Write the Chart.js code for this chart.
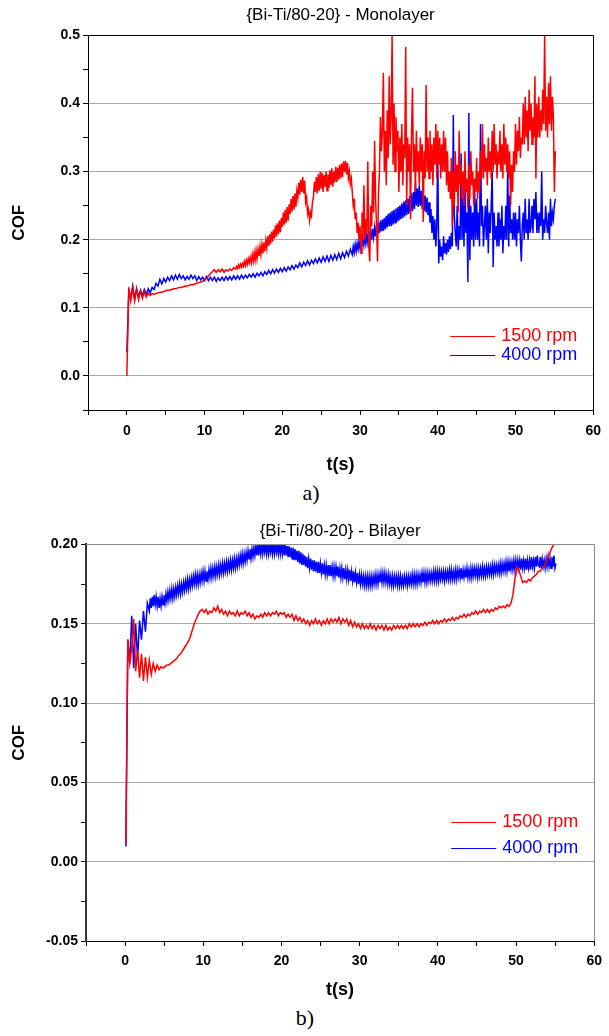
<!DOCTYPE html>
<html>
<head>
<meta charset="utf-8">
<script src="https://cdn.jsdelivr.net/npm/chart.js@4.4.1/dist/chart.umd.min.js"></script>
<style>
  html, body { margin: 0; padding: 0; background: #fff; }
  body { width: 609px; height: 1036px; position: relative; overflow: hidden; }
  .panel { position: absolute; left: 0; width: 609px; }
  #panelA { top: 0; height: 480px; }
  #panelB { top: 520px; height: 481px; }
  .caption { position: absolute; width: 40px; text-align: center; line-height: 26px;
             font-family: "Liberation Serif", "DejaVu Serif", serif; font-size: 22px; color: #000; }
</style>
</head>
<body>
<div class="panel" id="panelA"><canvas id="chartA" width="609" height="480"></canvas></div>
<div class="caption" style="left:291px; top:480px">a)</div>
<div class="panel" id="panelB"><canvas id="chartB" width="609" height="481"></canvas></div>
<div class="caption" style="left:285px; top:1005px">b)</div>
<script>
// (a) monolayer
// 1500 rpm: every 0.25 s to 13.75 s, then every 0.125 s from 14 s
// 4000 rpm: every 0.25 s to 28.75 s, then every 0.125 s from 29 s
const mono1500Early = [
  0.00,0.13,0.11,0.13, 0.11,0.128,0.112,0.125, 0.114,0.124,0.116,0.122, 0.118,0.121,0.12,0.121,
  0.122,0.123,0.123,0.124, 0.125,0.126,0.126,0.127, 0.128,0.128,0.129,0.13, 0.13,0.131,0.132,0.132,
  0.133,0.134,0.134,0.135, 0.136,0.137,0.138,0.139, 0.141,0.143,0.147,0.15, 0.153,0.156,0.152,0.156,
  0.153,0.157,0.152,0.156, 0.154,0.157,0.155,0.159
];
const mono1500Late = [
  0.157,0.161,0.158,0.163,0.159,0.164,0.16,0.165,  0.161,0.168,0.162,0.17,0.164,0.172,0.166,0.174,
  0.166,0.178,0.168,0.181,0.17,0.184,0.172,0.186,  0.176,0.19,0.178,0.193,0.18,0.196,0.183,0.199,
  0.188,0.205,0.191,0.208,0.194,0.212,0.197,0.215, 0.202,0.221,0.205,0.224,0.208,0.228,0.211,0.232,
  0.219,0.24,0.222,0.244,0.225,0.248,0.228,0.252,  0.238,0.26,0.241,0.264,0.244,0.268,0.248,0.272,
  0.262,0.284,0.266,0.288,0.27,0.292,0.268,0.287,  0.255,0.262,0.238,0.245,0.228,0.24,0.235,0.255,
  0.262,0.285,0.27,0.292,0.268,0.296,0.272,0.3,    0.275,0.298,0.27,0.295,0.278,0.3,0.272,0.296,
  0.276,0.302,0.28,0.305,0.278,0.3,0.284,0.307,    0.285,0.306,0.288,0.31,0.29,0.312,0.292,0.315,
  0.3,0.316,0.296,0.313,0.29,0.3,0.282,0.29,
  0.27,0.25,0.26,0.23,0.24,0.21,0.225,0.2,   0.22,0.18,0.24,0.2,0.28,0.2,0.23,0.21,
  0.315,0.19,0.168,0.25,0.22,0.3,0.24,0.345, 0.26,0.22,0.168,0.27,0.3,0.38,0.33,0.36,
  0.445,0.3,0.36,0.28,0.39,0.32,0.44,0.34,   0.38,0.5,0.31,0.4,0.3,0.38,0.33,0.36,
  0.27,0.35,0.3,0.37,0.28,0.34,0.32,0.483,   0.25,0.35,0.3,0.34,0.23,0.36,0.423,0.3,
  0.34,0.27,0.36,0.3,0.33,0.28,0.35,0.3,     0.34,0.226,0.33,0.29,0.427,0.3,0.35,0.29,
  0.36,0.3,0.34,0.28,0.35,0.31,0.37,0.29,    0.36,0.31,0.35,0.29,0.34,0.3,0.36,0.3,
  0.35,0.28,0.33,0.27,0.3,0.26,0.32,0.22,    0.3,0.25,0.33,0.27,0.31,0.24,0.36,0.28,
  0.31,0.26,0.3,0.25,0.33,0.27,0.29,0.245,   0.31,0.26,0.33,0.28,0.3,0.25,0.29,0.27,
  0.32,0.26,0.3,0.27,0.33,0.29,0.37,0.29,    0.34,0.3,0.32,0.28,0.35,0.3,0.33,0.29,
  0.36,0.3,0.37,0.31,0.34,0.29,0.33,0.31,    0.36,0.3,0.34,0.29,0.37,0.31,0.35,0.3,
  0.34,0.29,0.33,0.25,0.31,0.27,0.33,0.3,    0.37,0.31,0.36,0.33,0.38,0.32,0.35,0.34,
  0.4,0.34,0.41,0.35,0.39,0.33,0.42,0.36,    0.4,0.34,0.38,0.35,0.44,0.29,0.4,0.35,
  0.41,0.35,0.39,0.36,0.42,0.37,0.5,0.36,    0.41,0.35,0.43,0.37,0.44,0.36,0.41,0.38,
  0.27,0.33
];
const mono4000Early = [
  0.035,0.125,0.115,0.132, 0.113,0.128,0.116,0.126, 0.118,0.127,0.12,0.128, 0.122,0.13,0.127,0.136,
  0.132,0.142,0.135,0.143, 0.138,0.145,0.14,0.147, 0.141,0.148,0.142,0.149, 0.143,0.147,0.141,0.146,
  0.142,0.148,0.143,0.147, 0.14,0.146,0.141,0.145, 0.14,0.146,0.14,0.145, 0.14,0.145,0.139,0.144,
  0.14,0.145,0.14,0.146, 0.141,0.146,0.141,0.147, 0.142,0.147,0.142,0.148, 0.143,0.148,0.144,0.149,
  0.145,0.15,0.145,0.151, 0.147,0.152,0.147,0.153, 0.149,0.155,0.15,0.156, 0.151,0.157,0.152,0.158,
  0.153,0.159,0.154,0.16, 0.156,0.162,0.157,0.163, 0.159,0.166,0.16,0.167, 0.162,0.169,0.163,0.17,
  0.165,0.172,0.166,0.173, 0.167,0.175,0.168,0.176, 0.168,0.177,0.17,0.178, 0.171,0.18,0.172,0.181,
  0.174,0.183,0.176,0.186
];
const mono4000Late = [
  0.178,0.19,0.181,0.193,0.183,0.195,0.186,0.198,  0.187,0.2,0.19,0.203,0.192,0.205,0.194,0.208,
  0.196,0.21,0.198,0.213,0.2,0.216,0.203,0.218,    0.205,0.222,0.207,0.225,0.21,0.228,0.212,0.23,
  0.213,0.232,0.215,0.235,0.218,0.238,0.22,0.24,   0.22,0.242,0.222,0.244,0.225,0.246,0.226,0.248,
  0.228,0.25,0.23,0.253,0.232,0.256,0.234,0.258,   0.236,0.26,0.238,0.264,0.24,0.268,0.242,0.27,
  0.245,0.285,0.25,0.275,0.248,0.28,0.25,0.272,    0.245,0.27,0.242,0.265,0.24,0.262,0.236,0.255,
  0.225,0.245,0.21,0.235,0.2,0.23,0.19,0.22,       0.33,0.165,0.2,0.175,0.19,0.17,0.205,0.18,
  0.195,0.178,0.2,0.182,0.205,0.186,0.21,0.19,     0.383,0.236,0.21,0.19,0.25,0.185,0.22,0.2,
  0.327,0.2,0.26,0.19,0.28,0.21,0.24,0.138,        0.386,0.17,0.25,0.2,0.24,0.19,0.27,0.2,
  0.26,0.2,0.24,0.19,0.37,0.22,0.25,0.19,          0.22,0.25,0.2,0.26,0.18,0.24,0.21,0.25,
  0.3,0.16,0.24,0.2,0.22,0.19,0.24,0.19,           0.23,0.2,0.25,0.18,0.22,0.2,0.25,0.2,
  0.308,0.19,0.265,0.21,0.23,0.2,0.24,0.2,         0.24,0.19,0.23,0.21,0.25,0.2,0.168,0.22,
  0.24,0.2,0.26,0.21,0.23,0.2,0.26,0.21,           0.22,0.25,0.21,0.26,0.23,0.27,0.21,0.24,
  0.21,0.24,0.22,0.3,0.2,0.23,0.21,0.25,           0.225,0.21,0.24,0.2,0.26,0.22,0.24,0.23,
  0.25,0.26
];

// (b) bilayer
// 1500 rpm: every 0.25 s from 0.1 s
// 4000 rpm: every 0.25 s from 0.1 s to 2.85 s, then every 0.125 s from 3.1 s
const bi1500 = [
  0.011,0.14,0.125,0.135, 0.153,0.12,0.133,0.116, 0.131,0.114,0.129,0.116, 0.127,0.118,0.125,0.12,
  0.124,0.121,0.123,0.122, 0.123,0.124,0.124,0.125, 0.126,0.127,0.128,0.13, 0.131,0.133,0.135,0.137,
  0.139,0.142,0.146,0.15, 0.153,0.156,0.158,0.159, 0.157,0.159,0.156,0.158, 0.157,0.16,0.158,0.161,
  0.157,0.159,0.156,0.158, 0.155,0.158,0.156,0.157, 0.155,0.158,0.155,0.157, 0.156,0.158,0.155,0.157,
  0.154,0.156,0.153,0.155, 0.154,0.156,0.154,0.157, 0.155,0.157,0.155,0.157, 0.156,0.158,0.155,0.157,
  0.156,0.157,0.154,0.156, 0.154,0.156,0.152,0.155, 0.152,0.154,0.151,0.153, 0.15,0.152,0.149,0.152,
  0.15,0.153,0.15,0.152, 0.149,0.152,0.15,0.153, 0.15,0.153,0.151,0.153, 0.151,0.154,0.15,0.153,
  0.151,0.153,0.149,0.152, 0.148,0.151,0.148,0.15, 0.147,0.15,0.147,0.149, 0.147,0.15,0.147,0.149,
  0.146,0.149,0.147,0.149, 0.146,0.149,0.146,0.148, 0.146,0.149,0.147,0.149, 0.147,0.149,0.147,0.149,
  0.147,0.15,0.148,0.15, 0.148,0.15,0.148,0.15, 0.149,0.151,0.149,0.151, 0.15,0.152,0.15,0.152,
  0.15,0.152,0.151,0.153, 0.151,0.153,0.152,0.154, 0.152,0.154,0.153,0.155, 0.154,0.156,0.154,0.156,
  0.155,0.157,0.156,0.158, 0.156,0.158,0.157,0.159, 0.157,0.159,0.157,0.159, 0.158,0.16,0.159,0.161,
  0.16,0.161,0.16,0.162, 0.161,0.163,0.168,0.178, 0.186,0.184,0.18,0.176, 0.177,0.176,0.178,0.177,
  0.179,0.18,0.181,0.183, 0.183,0.185,0.186,0.189, 0.192,0.195,0.198,0.2, 0.201
];
const bi4000Early = [
  0.0095,0.14,0.125,0.155, 0.122,0.15,0.128,0.152, 0.14,0.158,0.145,0.163
];
const bi4000Late = [
  0.158,0.166,0.16,0.167,0.161,0.168,0.162,0.167, 0.161,0.167,0.16,0.166,0.161,0.167,0.162,0.168,
  0.163,0.169,0.164,0.17,0.165,0.171,0.166,0.172, 0.166,0.172,0.167,0.173,0.168,0.174,0.169,0.175,
  0.169,0.175,0.17,0.176,0.171,0.177,0.172,0.178, 0.172,0.178,0.173,0.179,0.174,0.18,0.175,0.181,
  0.175,0.181,0.175,0.181,0.176,0.182,0.177,0.183, 0.177,0.183,0.177,0.183,0.178,0.184,0.179,0.185,
  0.179,0.185,0.18,0.186,0.18,0.186,0.181,0.187, 0.181,0.187,0.182,0.188,0.182,0.188,0.183,0.189,
  0.183,0.189,0.184,0.19,0.184,0.19,0.185,0.191, 0.185,0.191,0.186,0.192,0.187,0.193,0.188,0.194,
  0.188,0.194,0.189,0.195,0.19,0.196,0.191,0.197, 0.191,0.197,0.192,0.198,0.193,0.199,0.193,0.2,
  0.193,0.2,0.194,0.2,0.194,0.2,0.195,0.2, 0.194,0.2,0.194,0.2,0.195,0.2,0.194,0.2,
  0.194,0.2,0.195,0.2,0.194,0.2,0.194,0.2, 0.194,0.2,0.193,0.2,0.193,0.199,0.192,0.199,
  0.192,0.198,0.191,0.198,0.19,0.197,0.19,0.196, 0.189,0.196,0.188,0.195,0.187,0.194,0.187,0.193,
  0.186,0.192,0.185,0.191,0.185,0.191,0.184,0.19, 0.183,0.19,0.183,0.189,0.182,0.189,0.182,0.188,
  0.182,0.188,0.181,0.187,0.181,0.187,0.181,0.187, 0.18,0.187,0.18,0.186,0.18,0.186,0.18,0.186,
  0.18,0.186,0.179,0.185,0.179,0.185,0.179,0.185, 0.178,0.184,0.178,0.184,0.178,0.184,0.177,0.183,
  0.177,0.183,0.176,0.182,0.176,0.182,0.175,0.181, 0.175,0.181,0.175,0.18,0.174,0.18,0.174,0.18,
  0.174,0.18,0.174,0.18,0.174,0.18,0.175,0.181, 0.175,0.181,0.175,0.181,0.176,0.182,0.176,0.182,
  0.176,0.182,0.176,0.181,0.175,0.181,0.175,0.18, 0.174,0.18,0.174,0.18,0.175,0.18,0.174,0.18,
  0.174,0.18,0.174,0.179,0.174,0.18,0.175,0.18, 0.174,0.18,0.175,0.18,0.175,0.181,0.175,0.181,
  0.175,0.181,0.175,0.181,0.176,0.181,0.176,0.182, 0.176,0.182,0.176,0.182,0.176,0.182,0.177,0.182,
  0.177,0.182,0.177,0.183,0.177,0.183,0.177,0.183, 0.177,0.183,0.178,0.183,0.178,0.183,0.177,0.183,
  0.178,0.183,0.178,0.184,0.178,0.184,0.178,0.183, 0.178,0.184,0.178,0.184,0.179,0.184,0.179,0.185,
  0.178,0.184,0.179,0.184,0.179,0.185,0.179,0.184, 0.179,0.185,0.179,0.185,0.18,0.185,0.18,0.185,
  0.179,0.185,0.18,0.185,0.18,0.186,0.18,0.185, 0.18,0.186,0.181,0.186,0.181,0.186,0.181,0.187,
  0.181,0.187,0.182,0.187,0.182,0.187,0.182,0.188, 0.182,0.188,0.183,0.188,0.183,0.189,0.183,0.189,
  0.183,0.189,0.184,0.189,0.184,0.19,0.184,0.19, 0.184,0.19,0.185,0.19,0.184,0.191,0.185,0.19,
  0.185,0.191,0.184,0.19,0.185,0.19,0.184,0.192, 0.186,0.19,0.185,0.192,0.186,0.193,0.187,
  0.186,0.192,0.185,0.191,0.186,0.19,0.185,0.191, 0.186,0.192,0.186,0.191,0.185,0.192,0.186,0.193,
  0.185,0.188
];

const SERIES_LABELS = ['1500 rpm', '4000 rpm'];
const SERIES_COLORS = ['#ff0000', '#0000ff'];

Chart.defaults.font.family = '"Liberation Sans", Arial, sans-serif';
Chart.defaults.color = '#000';

// each segment: [values, start time, step]
function toPoints(segments){
  const pts = [];
  segments.forEach(([values, t0, step]) => {
    values.forEach((v, i) => pts.push({ x: t0 + i * step, y: v }));
  });
  return pts;
}

// legend drawn inside the plot, line sample + coloured text
const insideLegend = {
  id: 'insideLegend',
  afterDatasetsDraw(chart, args, opts){
    const { ctx, chartArea } = chart;
    ctx.save();
    ctx.font = opts.font;
    ctx.textBaseline = 'middle';
    chart.data.datasets.forEach((ds, i) => {
      const y = Math.round(chartArea.top + opts.rows[i]) + 0.5;
      ctx.strokeStyle = ds.borderColor;
      ctx.lineWidth = 1;
      ctx.beginPath();
      ctx.moveTo(chartArea.right - 143, y);
      ctx.lineTo(chartArea.right - 98, y);
      ctx.stroke();
      ctx.fillStyle = ds.borderColor;
      ctx.fillText(ds.label, chartArea.right - 92, y);
    });
    ctx.restore();
  }
};

// top and right edges of the plot box
const plotFrame = {
  id: 'plotFrame',
  afterDraw(chart, args, opts){
    const { ctx, chartArea: a } = chart;
    ctx.save();
    ctx.strokeStyle = opts.color;
    ctx.lineWidth = 1;
    ctx.beginPath();
    ctx.moveTo(a.left, Math.round(a.top) + 0.5);
    ctx.lineTo(Math.round(a.right) + 0.5, Math.round(a.top) + 0.5);
    ctx.lineTo(Math.round(a.right) + 0.5, a.bottom);
    ctx.stroke();
    ctx.restore();
  }
};

function makeChart(id, cfg){
  const isMajorY = v => Math.abs(v / cfg.yMajor - Math.round(v / cfg.yMajor)) < 1e-6;
  return new Chart(document.getElementById(id), {
    type: 'line',
    data: {
      datasets: cfg.series.map((segs, i) => ({
        label: SERIES_LABELS[i],
        data: toPoints(segs),
        borderColor: SERIES_COLORS[i],
        borderWidth: 1.5,
        pointRadius: 0,
        tension: 0
      }))
    },
    options: {
      responsive: false,
      animation: false,
      events: [],
      layout: { padding: { top: 0, left: 0, right: 12, bottom: 0 } },
      plugins: {
        legend: { display: false },
        tooltip: { enabled: false },
        title: {
          display: true,
          text: cfg.title,
          fullSize: false,
          font: { size: 17, weight: 'normal' },
          padding: cfg.titlePad
        },
        insideLegend: { font: '18px "Liberation Sans", Arial, sans-serif', rows: cfg.legendRows },
        plotFrame: { color: cfg.frameColor }
      },
      scales: {
        x: {
          type: 'linear',
          min: -5, max: 60,
          afterFit: s => { s.height = cfg.xHeight; },
          ticks: {
            stepSize: 5, autoSkip: false, maxRotation: 0,
            padding: cfg.xTickPad,
            font: { size: 14, weight: 'bold' },
            callback: v => (v % 10 === 0 ? String(v) : '')
          },
          grid: { drawOnChartArea: false, tickColor: '#000', tickLength: 5 },
          border: { color: '#000', width: 1 },
          title: { display: true, text: 't(s)', font: { size: 18, weight: 'bold' }, padding: { top: 0, bottom: cfg.xTitlePad } }
        },
        y: {
          min: cfg.yMin, max: cfg.yMax,
          afterFit: s => { s.width = cfg.yWidth; },
          ticks: {
            stepSize: cfg.yMinor, autoSkip: false, padding: 3,
            font: { size: 14, weight: 'bold' },
            callback: v => (isMajorY(v) ? v.toFixed(cfg.yDigits) : '')
          },
          grid: {
            tickColor: '#000', tickLength: 5,
            color: c => (c.tick && isMajorY(c.tick.value) ? '#a8a8a8' : 'rgba(0,0,0,0)')
          },
          border: { color: cfg.yAxisColor, width: cfg.yAxisWidth },
          title: { display: true, text: 'COF', font: { size: 17, weight: 'bold' }, padding: { top: 9, bottom: 0 } }
        }
      }
    },
    plugins: [insideLegend, plotFrame]
  });
}

makeChart('chartA', {
  title: '{Bi-Ti/80-20} - Monolayer',
  series: [
    [[mono1500Early, 0, 0.25], [mono1500Late, 14, 0.125]],
    [[mono4000Early, 0, 0.25], [mono4000Late, 29, 0.125]]
  ],
  yMin: -0.05, yMax: 0.5, yMinor: 0.05, yMajor: 0.1, yDigits: 1,
  titlePad: { top: 5, bottom: 10 },
  xHeight: 70, xTickPad: 8, xTitlePad: 4,
  yWidth: 88,
  yAxisColor: '#000', yAxisWidth: 1,
  frameColor: '#000',
  legendRows: [301, 320]
});

makeChart('chartB', {
  title: '{Bi-Ti/80-20} - Bilayer',
  series: [
    [[bi1500, 0.1, 0.25]],
    [[bi4000Early, 0.1, 0.25], [bi4000Late, 3.1, 0.125]]
  ],
  yMin: -0.05, yMax: 0.2, yMinor: 0.025, yMajor: 0.05, yDigits: 2,
  titlePad: { top: 1, bottom: 3 },
  xHeight: 60, xTickPad: 7, xTitlePad: 0,
  yWidth: 86,
  yAxisColor: '#333', yAxisWidth: 2,
  frameColor: '#8a8a8a',
  legendRows: [278, 304]
});
</script>
</body>
</html>
